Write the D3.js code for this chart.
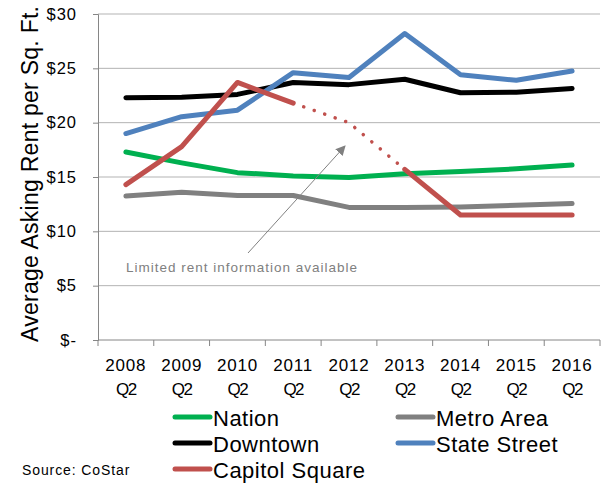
<!DOCTYPE html>
<html>
<head>
<meta charset="utf-8">
<script src="https://cdn.jsdelivr.net/npm/d3@7"></script>
<style>
  body { margin: 0; background: #fff; }
  text { font-family: "Liberation Sans", Arial, sans-serif; }
</style>
</head>
<body>
<div id="chart"></div>
<script>
// data
var years = ["2008", "2009", "2010", "2011", "2012", "2013", "2014", "2015", "2016"];
var quarter = "Q2";
var nation = [17.3, 16.3, 15.4, 15.1, 14.95, 15.3, 15.5, 15.75, 16.1];
var metroArea = [13.25, 13.6, 13.3, 13.3, 12.2, 12.2, 12.25, 12.4, 12.55];
var downtown = [22.3, 22.35, 22.6, 23.7, 23.5, 24.0, 22.75, 22.8, 23.15];
var stateStreet = [19.0, 20.55, 21.15, 24.6, 24.15, 28.2, 24.4, 23.9, 24.75];
var capitolSquare = [14.3, 17.8, 23.7, 21.8, 20.0, 15.7, 11.5, 11.5, 11.5];
// capitol square is dotted between these two indexes
var limitedFrom = 3, limitedTo = 5;
var yTicks = [0, 5, 10, 15, 20, 25, 30];

var series = [
  { name: "Nation", values: nation, color: "#00b050" },
  { name: "Metro Area", values: metroArea, color: "#808080" },
  { name: "Downtown", values: downtown, color: "#000000" },
  { name: "State Street", values: stateStreet, color: "#4f81bd" },
  { name: "Capitol Square", values: capitolSquare, color: "#c0504d" }
];

var width = 602, height = 485;
var margin = { top: 14, right: 2, bottom: 145, left: 98 };

var svg = d3.select("#chart").append("svg")
  .attr("width", width)
  .attr("height", height);

var x = d3.scaleBand()
  .domain(years)
  .range([margin.left, width - margin.right]);

var y = d3.scaleLinear()
  .domain([0, 30])
  .range([height - margin.bottom, margin.top]);

// gridlines
svg.append("g")
  .selectAll("line")
  .data(yTicks.filter(function (d) { return d > 0; }))
  .enter().append("line")
  .attr("x1", margin.left)
  .attr("x2", width - margin.right)
  .attr("y1", function (d) { return y(d); })
  .attr("y2", function (d) { return y(d); })
  .attr("stroke", "#b3b3b3")
  .attr("stroke-width", 1);

// y axis
var yAxis = svg.append("g")
  .attr("transform", "translate(" + margin.left + ",0)")
  .call(d3.axisLeft(y).tickValues(yTicks).tickSize(5).tickPadding(16)
    .tickFormat(function (d) { return d === 0 ? "$-" : "$" + d; }));
yAxis.select(".domain").attr("stroke", "#868686");
yAxis.selectAll(".tick line").attr("stroke", "#868686");
yAxis.selectAll("text").attr("font-size", 16.5).attr("fill", "#000")
  .style("letter-spacing", "1px")
  .style("font-family", "'Liberation Sans', Arial, sans-serif");

// x axis
var xAxis = svg.append("g")
  .attr("transform", "translate(0," + y(0) + ")");
xAxis.append("line")
  .attr("x1", margin.left).attr("x2", width - margin.right)
  .attr("stroke", "#868686");
var bounds = years.map(function (d) { return x(d); }).concat([x.range()[1]]);
xAxis.selectAll(".xtick")
  .data(bounds)
  .enter().append("line")
  .attr("x1", function (d) { return d; })
  .attr("x2", function (d) { return d; })
  .attr("y1", 0).attr("y2", 6)
  .attr("stroke", "#868686");
var lab = xAxis.selectAll(".xlab")
  .data(years)
  .enter().append("text")
  .attr("text-anchor", "middle")
  .attr("font-size", 17);
lab.append("tspan")
  .attr("x", function (d) { return x(d) + x.bandwidth() / 2; })
  .attr("y", 31)
  .style("letter-spacing", "0.8px")
  .text(function (d) { return d; });
lab.append("tspan")
  .attr("x", function (d) { return x(d) + x.bandwidth() / 2; })
  .attr("y", 55)
  .style("letter-spacing", "-1.5px")
  .text(quarter);

// axis title
svg.append("text")
  .attr("transform", "translate(38,174) rotate(-90)")
  .attr("text-anchor", "middle")
  .attr("font-size", 23)
  .attr("textLength", 336)
  .attr("lengthAdjust", "spacing")
  .text("Average Asking Rent per Sq. Ft.");

// lines
var cx = function (i) { return x(years[i]) + x.bandwidth() / 2; };
var line = d3.line()
  .x(function (d) { return cx(d.i); })
  .y(function (d) { return y(d.v); });

function pts(vals, from, to) {
  var out = [];
  for (var i = from; i <= to; i++) out.push({ i: i, v: vals[i] });
  return out;
}

series.forEach(function (s) {
  var n = s.values.length;
  if (s.name === "Capitol Square") {
    svg.append("path")
      .attr("d", line(pts(s.values, limitedFrom, limitedTo)))
      .attr("fill", "none")
      .attr("stroke", s.color)
      .attr("stroke-width", 3.5)
      .attr("stroke-linecap", "round")
      .attr("stroke-dasharray", "0.1 11");
    [[0, limitedFrom], [limitedTo, n - 1]].forEach(function (r) {
      svg.append("path")
        .attr("d", line(pts(s.values, r[0], r[1])))
        .attr("fill", "none")
        .attr("stroke", s.color)
        .attr("stroke-width", 5)
        .attr("stroke-linecap", "round")
        .attr("stroke-linejoin", "round");
    });
  } else {
    svg.append("path")
      .attr("d", line(pts(s.values, 0, n - 1)))
      .attr("fill", "none")
      .attr("stroke", s.color)
      .attr("stroke-width", 5)
      .attr("stroke-linecap", "round")
      .attr("stroke-linejoin", "round");
  }
});

// annotation with arrow
svg.append("defs").append("marker")
  .attr("id", "arrow")
  .attr("viewBox", "0 0 10 10")
  .attr("refX", 9).attr("refY", 5)
  .attr("markerWidth", 10).attr("markerHeight", 10)
  .attr("markerUnits", "userSpaceOnUse")
  .attr("orient", "auto")
  .append("path")
  .attr("d", "M0,0 L10,5 L0,10 z")
  .attr("fill", "#808080");

svg.append("line")
  .attr("x1", 248).attr("y1", 253)
  .attr("x2", 345).attr("y2", 146)
  .attr("stroke", "#808080")
  .attr("stroke-width", 1)
  .attr("marker-end", "url(#arrow)");

svg.append("text")
  .attr("x", 126).attr("y", 272)
  .attr("font-size", 13.5)
  .attr("fill", "#808080")
  .style("letter-spacing", "1px")
  .text("Limited rent information available");

// legend
var legendPos = [[173, 417], [396, 417], [173, 443], [396, 443], [173, 469]];
var leg = svg.selectAll(".legend")
  .data(series)
  .enter().append("g")
  .attr("transform", function (d, i) {
    return "translate(" + legendPos[i][0] + "," + legendPos[i][1] + ")";
  });
leg.append("line")
  .attr("x1", 2).attr("x2", 37)
  .attr("stroke", function (d) { return d.color; })
  .attr("stroke-width", 5)
  .attr("stroke-linecap", "round");
leg.append("text")
  .attr("x", 40)
  .attr("y", 8.5)
  .attr("font-size", 22)
  .style("letter-spacing", "0.5px")
  .text(function (d) { return d.name; });

svg.append("text")
  .attr("x", 22).attr("y", 475)
  .attr("font-size", 14)
  .style("letter-spacing", "0.9px")
  .text("Source: CoStar");
</script>
</body>
</html>
